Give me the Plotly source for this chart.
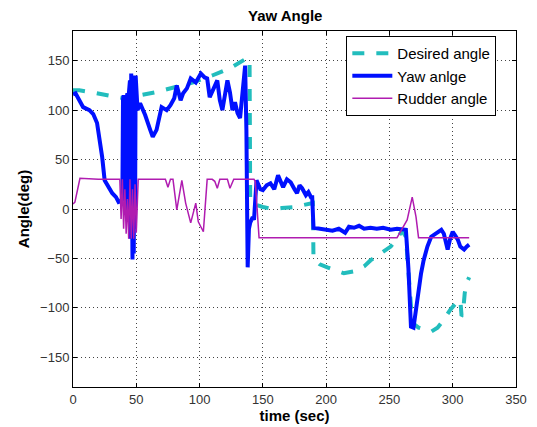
import plotly.graph_objects as go

# Desired angle (deg) vs time (sec)
desired_t = [0, 5, 15, 25, 40, 47, 53, 65, 80, 95, 110, 125, 138, 139.5, 140, 145, 150, 158,
             165, 175, 182, 188, 189.5, 190, 195, 201, 208, 214, 222, 230, 235, 243, 251, 256,
             260, 263, 266, 268, 273, 278, 283, 288, 293, 298, 302, 306, 307, 308, 309.5, 311, 313]
desired_y = [120, 120, 118, 116, 112, 110, 115, 118, 123, 128, 135, 143, 153, 150, 8, 4, 2, 0,
             1, 2, 4, 6, 6, -50, -56, -59, -62, -65, -63, -58, -52, -45, -38, -30,
             -22, -28, -80, -115, -120, -122, -124, -120, -112, -102, -96, -92, -108, -107, -85, -75, -69]

# Yaw angle (deg)
yaw_t = [0, 2, 5, 8, 13, 16, 19, 21, 23, 25, 28, 31, 34, 36, 38, 39, 39.5, 40, 41, 41.5, 42, 43,
         43.5, 44, 45, 45.5, 46, 47, 47.5, 48, 48.5, 49, 49.5, 50, 51, 53, 57, 61, 63, 66, 70,
         74, 77, 80, 82, 85, 87, 90, 93, 97, 101, 104, 106, 108, 111, 114, 116, 118, 120, 122,
         124, 126, 128, 130, 132, 134, 135, 136, 137, 138, 139, 140, 142, 143, 145, 148, 150,
         153, 156, 159, 162, 164, 166, 169, 172, 175, 177, 179, 181, 184, 186, 188, 189, 190,
         195, 200, 205, 210, 215, 218, 222, 226, 230, 235, 240, 245, 251, 256, 261, 263, 265,
         267, 269, 271, 273, 275, 277, 280, 283, 287, 291, 293, 295, 296, 298, 300, 302, 304,
         306, 309, 311, 313]
yaw_y = [116, 117, 110, 103, 100, 96, 87, 70, 53, 29, 22, 16, 12, 7, 8, 12, 110, 115, 100, 5, 110, 117,
         -2, 115, 130, -30, 137, -51, 135, -45, 130, -20, 135, 120, 100, 107, 95, 80, 73, 80, 103,
         100, 105, 112, 125, 110, 117, 122, 132, 128, 137, 133, 132, 113, 122, 130, 110, 100, 115, 130,
         118, 100, 108, 97, 92, 120, 140, 145, 80, -59, -20, -14, -8, -11, 29, 20, 19,
         24, 26, 20, 34, 28, 22, 30, 27, 20, 16, 24, 21, 14, 17, 12, 12, -19,
         -20, -21, -22, -20, -24, -18, -19, -17, -20, -19, -20, -19, -21, -20, -21, -21, -60,
         -119, -120, -100, -82, -65, -52, -38, -28, -24, -21, -25, -35, -41, -30, -23, -27, -31,
         -38, -41, -38, -36]

# Rudder angle (deg)
rudder_t = [0, 1.5, 5.5, 20, 37, 38, 39, 40, 41, 42, 43, 44, 45, 46, 47, 48, 49, 50, 51.5, 52,
            73, 75, 77, 79, 82, 86, 89, 93, 97, 99, 103, 106, 110, 112, 114, 116, 120, 122, 124,
            127, 135, 143, 144, 147, 200, 256, 260, 264, 268, 271, 273, 290, 313]
rudder_y = [5, 7, 31, 30, 30, -10, 30, -20, 20, -25, 10, -30, 30, -30, 20, -30, 25, -24, 30, 30,
            30, 22, 30, 30, -1, 29, 6, -14, 6, -13, -23, 30, 30, 28, 21, 30, 30, 30, 21,
            30, 30, 30, 28, -29, -29, -29, -20, -11, 12, -8, -29, -29, -29]

fig = go.Figure()
fig.add_trace(go.Scatter(x=desired_t, y=desired_y, mode="lines", name="Desired angle",
                         line=dict(color="#22bdbd", width=4, dash="dash")))
fig.add_trace(go.Scatter(x=yaw_t, y=yaw_y, mode="lines", name="Yaw anlge",
                         line=dict(color="#0010ff", width=4)))
fig.add_trace(go.Scatter(x=rudder_t, y=rudder_y, mode="lines", name="Rudder angle",
                         line=dict(color="#b01cb0", width=1.5)))

axis_common = dict(
    showline=True, linecolor="black", linewidth=1, mirror="ticks",
    ticks="inside", ticklen=4, tickcolor="black",
    showgrid=True, gridcolor="#444444", griddash="1px,3px", gridwidth=1,
    zeroline=False, automargin=False,
    tickfont=dict(family="Liberation Sans, Arial", size=13, color="#333333"),
)

# the page body adds an 8px offset, so the figure is 8px smaller and margins shifted
fig.update_layout(
    width=529, height=419,
    margin=dict(l=65, r=21, t=23, b=40),
    paper_bgcolor="white", plot_bgcolor="white",
    font=dict(family="Liberation Sans, Arial", color="black"),
    title=dict(text="<b>Yaw Angle</b>", x=0.524, xref="container", xanchor="center",
               y=0.981, yref="container", yanchor="middle", font=dict(size=15)),
    xaxis=dict(range=[0, 350], dtick=50,
               title=dict(text="<b>time (sec)</b>", font=dict(size=15), standoff=2), **axis_common),
    yaxis=dict(range=[-180, 180], tickvals=[-150, -100, -50, 0, 50, 100, 150],
               title=dict(text="<b>Angle(deg)</b>", font=dict(size=15), standoff=6), **axis_common),
    legend=dict(x=0.617, y=0.986, xanchor="left", yanchor="top",
                bgcolor="white", bordercolor="black", borderwidth=1,
                font=dict(size=15), tracegroupgap=0, itemwidth=40),
    showlegend=True,
)

fig.write_html("out.html")
